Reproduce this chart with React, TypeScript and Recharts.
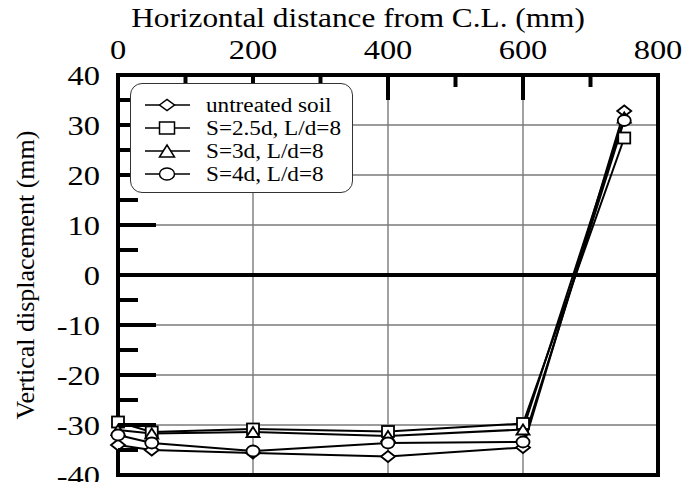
import React from 'react';
import { LineChart, Line, XAxis, YAxis, CartesianGrid, ReferenceLine, Legend } from 'recharts';

// Horizontal distance from the centre line (mm)
const distances = [0, 50, 200, 400, 600, 750];

// Vertical displacement (mm) for each case
const untreatedSoil = [-34, -35, -35.6, -36.3, -34.5, 32.8];
const spacing25d = [-29.4, -31.4, -30.8, -31.3, -29.7, 27.4];
const spacing3d = [-31, -31.7, -31.4, -32.2, -30.9, 31.5];
const spacing4d = [-32, -33.6, -35.2, -33.6, -33.4, 30.9];

const seriesNames = ['untreated soil', 'S=2.5d, L/d=8', 'S=3d, L/d=8', 'S=4d, L/d=8'];
const seriesKeys = ['untreated', 's25', 's3', 's4'];
const seriesShapes = ['diamond', 'square', 'triangle', 'circle'];
const seriesValues = [untreatedSoil, spacing25d, spacing3d, spacing4d];

const xTicks = [0, 100, 200, 300, 400, 500, 600, 700, 800];
const xTickLabels = [0, 200, 400, 600, 800];
const yTicks = [-40, -35, -30, -25, -20, -15, -10, -5, 0, 5, 10, 15, 20, 25, 30, 35, 40];
const yTickLabels = [-40, -30, -20, -10, 0, 10, 20, 30, 40];
const xGridValues = [200, 400, 600];
const yGridValues = [-30, -20, -10, 10, 20, 30];

const xTitle = 'Horizontal distance from C.L. (mm)';
const yTitle = 'Vertical displacement (mm)';

const data = distances.map((d, i) => {
  const row: Record<string, number> = { distance: d };
  seriesKeys.forEach((k, s) => {
    row[k] = seriesValues[s][i];
  });
  return row;
});

const FONT = 'Liberation Serif, DejaVu Serif, Noto Serif, serif';
const STRETCH = 1.16;
const X_TICK_GAP = 16;
const Y_TICK_GAP = 18;

type MarkerProps = { shape: string; cx: number; cy: number; w: number; h: number; sw?: number };

function Marker({ shape, cx, cy, w, h, sw = 1.8 }: MarkerProps) {
  const style = { fill: '#fff', stroke: '#000', strokeWidth: sw };
  if (shape === 'diamond') {
    return (
      <polygon
        points={`${cx - w / 2},${cy} ${cx},${cy - h / 2} ${cx + w / 2},${cy} ${cx},${cy + h / 2}`}
        {...style}
      />
    );
  }
  if (shape === 'square') {
    return <rect x={cx - w / 2} y={cy - h / 2} width={w} height={h} {...style} />;
  }
  if (shape === 'triangle') {
    return (
      <polygon
        points={`${cx - w / 2},${cy + h / 2} ${cx},${cy - h / 2} ${cx + w / 2},${cy + h / 2}`}
        {...style}
      />
    );
  }
  return <ellipse cx={cx} cy={cy} rx={w / 2} ry={h / 2} {...style} />;
}

const XTick = (props: any) => {
  const { x, y, payload } = props;
  const v = payload.value;
  const labelled = xTickLabels.includes(v);
  const axisY = y + X_TICK_GAP;
  return (
    <g>
      <line x1={x} x2={x} y1={axisY} y2={axisY + (labelled ? 25 : 12)} stroke="#000" strokeWidth={4} />
      {labelled && (
        <text
          transform={`translate(${x},${y}) scale(${STRETCH},1)`}
          textAnchor="middle"
          style={{ fontFamily: FONT, fontSize: 28 }}
          fill="#000"
        >
          {v}
        </text>
      )}
    </g>
  );
};

const YTick = (props: any) => {
  const { x, y, payload } = props;
  const v = payload.value;
  const labelled = yTickLabels.includes(v);
  const axisX = x + Y_TICK_GAP;
  return (
    <g>
      <line x1={axisX} x2={axisX + (labelled ? 38 : 20)} y1={y} y2={y} stroke="#000" strokeWidth={4} />
      {labelled && (
        <text
          transform={`translate(${x},${y + 10}) scale(${STRETCH},1)`}
          textAnchor="end"
          style={{ fontFamily: FONT, fontSize: 28 }}
          fill="#000"
        >
          {v}
        </text>
      )}
    </g>
  );
};

const renderXTitle = (props: any) => {
  const vb = props.viewBox;
  const cx = vb.x + vb.width / 2 - 30;
  return (
    <text
      transform={`translate(${cx},${vb.y - 8}) scale(${STRETCH},1)`}
      textAnchor="middle"
      style={{ fontFamily: FONT, fontSize: 27 }}
      fill="#000"
    >
      {xTitle}
    </text>
  );
};

const renderYTitle = (props: any) => {
  const vb = props.viewBox;
  const cx = vb.x + 16;
  const cy = vb.y + vb.height / 2;
  return (
    <text
      transform={`translate(${cx},${cy}) rotate(-90)`}
      textAnchor="middle"
      style={{ fontFamily: FONT, fontSize: 26 }}
      fill="#000"
    >
      {yTitle}
    </text>
  );
};

const renderLegend = () => (
  <div
    style={{
      width: 223,
      height: 110,
      boxSizing: 'border-box',
      border: '1px solid #333',
      borderRadius: 12,
      background: '#fff',
    }}
  >
    <svg width={221} height={108} style={{ display: 'block' }}>
      {seriesNames.map((name, i) => {
        const cy = 21 + i * 23;
        return (
          <g key={name}>
            <line x1={14} x2={59} y1={cy} y2={cy} stroke="#000" strokeWidth={1.6} />
            <Marker shape={seriesShapes[i]} cx={36} cy={cy} w={15} h={seriesShapes[i] === 'diamond' ? 11 : 12} sw={1.5} />
            <text
              transform={`translate(75,${cy + 6.5}) scale(${STRETCH},1)`}
              style={{ fontFamily: FONT, fontSize: 20 }}
              fill="#000"
            >
              {name}
            </text>
          </g>
        );
      })}
    </svg>
  </div>
);

const markerSize: Record<string, [number, number]> = {
  diamond: [14, 11],
  square: [12, 11],
  triangle: [13, 10],
  circle: [13, 11],
};

export default function App() {
  return (
    <div style={{ position: 'absolute', left: 0, top: 0, background: '#fff' }}>
      <LineChart width={685} height={482} data={data} margin={{ top: 35, right: 27, bottom: 7, left: 18 }}>
        <CartesianGrid
          horizontalValues={yGridValues}
          verticalValues={xGridValues}
          stroke="#7a7a7a"
          strokeWidth={1.4}
        />
        <XAxis
          dataKey="distance"
          type="number"
          orientation="top"
          domain={[0, 800]}
          ticks={xTicks}
          interval={0}
          height={40}
          axisLine={false}
          tickLine={false}
          tickSize={0}
          tickMargin={X_TICK_GAP}
          tick={<XTick />}
          label={{ value: xTitle, content: renderXTitle }}
        />
        <YAxis
          type="number"
          domain={[-40, 40]}
          ticks={yTicks}
          interval={0}
          width={100}
          axisLine={false}
          tickLine={false}
          tickSize={0}
          tickMargin={Y_TICK_GAP}
          tick={<YTick />}
          label={{ value: yTitle, content: renderYTitle }}
        />
        <ReferenceLine y={0} stroke="#000" strokeWidth={4} />
        <ReferenceLine x={0} stroke="#000" strokeWidth={4} strokeLinecap="square" />
        <ReferenceLine x={800} stroke="#000" strokeWidth={4} strokeLinecap="square" />
        <ReferenceLine y={40} stroke="#000" strokeWidth={4} strokeLinecap="square" />
        <ReferenceLine y={-40} stroke="#000" strokeWidth={4} strokeLinecap="square" />
        {seriesKeys.map((key, s) => (
          <Line
            key={key}
            dataKey={key}
            name={seriesNames[s]}
            type="linear"
            stroke="#000"
            strokeWidth={2}
            isAnimationActive={false}
            dot={(p: any) => (
              <Marker
                key={`${key}-${p.index}`}
                shape={seriesShapes[s]}
                cx={p.cx}
                cy={p.cy}
                w={markerSize[seriesShapes[s]][0]}
                h={markerSize[seriesShapes[s]][1]}
              />
            )}
            activeDot={false}
          />
        ))}
        <Legend
          layout="vertical"
          align="center"
          verticalAlign="middle"
          wrapperStyle={{ left: 130, top: 83, width: 223, height: 110 }}
          content={renderLegend}
        />
      </LineChart>
    </div>
  );
}
